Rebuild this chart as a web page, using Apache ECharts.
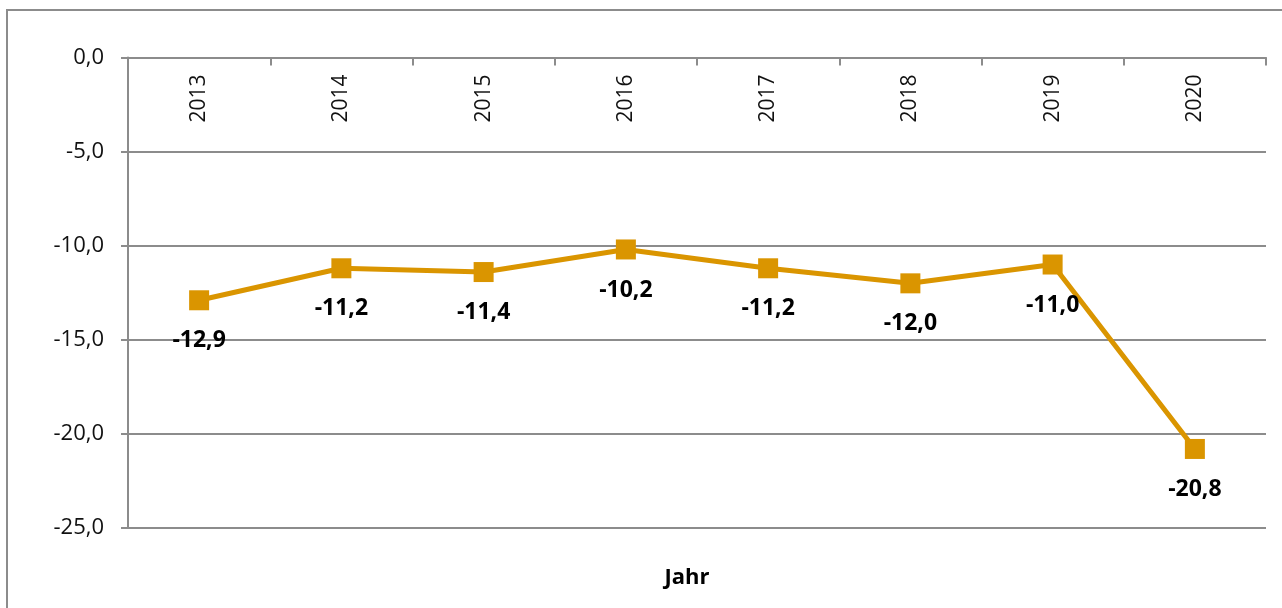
<!DOCTYPE html>
<html>
<head>
<meta charset="utf-8">
<script src="https://cdn.jsdelivr.net/npm/echarts@6/dist/echarts.min.js"></script>
<style>
  html, body { margin: 0; padding: 0; background: #fff; }
  #chart { width: 1282px; height: 608px; }
</style>
</head>
<body>
<div id="chart"></div>
<script>
// Jahre und Werte
const years = ['2013', '2014', '2015', '2016', '2017', '2018', '2019', '2020'];
const values = [-12.9, -11.2, -11.4, -10.2, -11.2, -12.0, -11.0, -20.8];
const yMin = -25;
const yMax = 0;
const yStep = 5;

const fmt = (v) => v.toFixed(1).replace('.', ',');

const chart = echarts.init(document.getElementById('chart'));
chart.setOption({
    animation: false,
    textStyle: { fontFamily: '"Open Sans", sans-serif' },
    grid: { left: 128, right: 16, top: 57.5, bottom: 80, containLabel: false },
    graphic: [
        {
            type: 'rect',
            shape: { x: 7, y: 10, width: 1400, height: 800 },
            style: { fill: 'none', stroke: '#8c8c8c', lineWidth: 2 },
            silent: true
        },
        {
            type: 'text',
            x: 687, y: 578,
            style: {
                text: 'Jahr', fill: '#000', font: 'bold 22px "Open Sans", sans-serif',
                textAlign: 'center', textVerticalAlign: 'middle'
            }
        }
    ],
    xAxis: {
        type: 'category',
        data: years,
        position: 'top',
        boundaryGap: true,
        axisLine: { show: true, lineStyle: { color: '#8c8c8c', width: 2 } },
        axisTick: { show: true, inside: true, length: 8, lineStyle: { color: '#8c8c8c', width: 2 } },
        axisLabel: { inside: true, rotate: 90, margin: 17, fontSize: 21, color: '#111' },
        splitLine: { show: false }
    },
    yAxis: {
        type: 'value',
        min: yMin,
        max: yMax,
        interval: yStep,
        axisLine: { show: true, lineStyle: { color: '#8c8c8c', width: 2 } },
        axisTick: { show: true, length: 7, lineStyle: { color: '#8c8c8c', width: 2 } },
        axisLabel: { margin: 24, fontSize: 22, color: '#111', formatter: (v) => fmt(v) },
        splitLine: { show: true, lineStyle: { color: '#8c8c8c', width: 2 } }
    },
    series: [{
        type: 'line',
        data: values,
        symbol: 'rect',
        symbolSize: 20,
        lineStyle: { color: '#DA9500', width: 5 },
        itemStyle: { color: '#DA9500' },
        label: {
            show: true,
            position: 'bottom',
            distance: 19,
            fontSize: 23,
            fontWeight: 'bold',
            color: '#000',
            formatter: (p) => fmt(p.value)
        }
    }]
});
</script>
</body>
</html>
